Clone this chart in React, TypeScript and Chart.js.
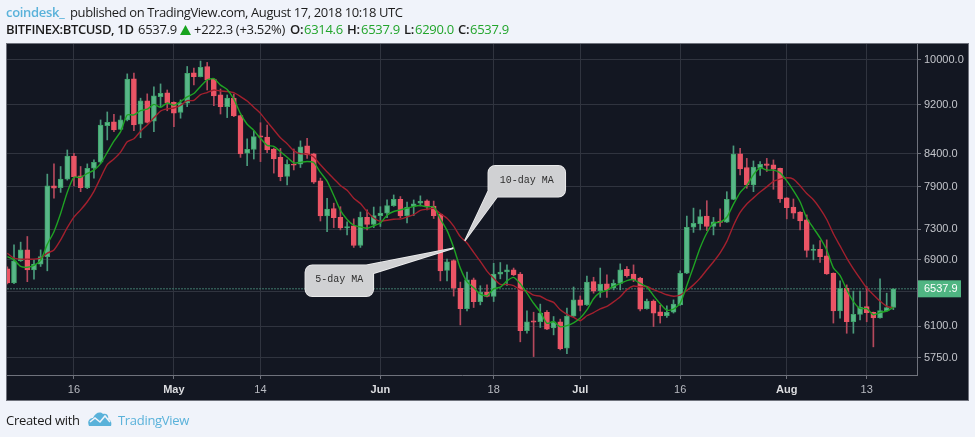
import React, { useEffect, useRef } from "react";
import { Chart, registerables } from "chart.js";

Chart.register(...registerables);

// daily candles, 6 Apr 2018 (day 0) to 17 Aug 2018 (day 133)
const opens = [
  6785, 6610, 6890, 7028, 6772, 6845, 6940, 7915, 7890, 8015,
  8367, 8063, 7890, 8178, 8270, 8850, 8915, 8790, 8946, 9655,
  8875, 9268, 8925, 9340, 9410, 9245, 9070, 9230, 9765, 9695,
  9880, 9650, 9371, 9170, 9315, 9020, 8410, 8470, 8688, 8665,
  8476, 8345, 8055, 8240, 8240, 8525, 8400, 7990, 7485, 7590,
  7465, 7320, 7350, 7085, 7465, 7370, 7490, 7525, 7630, 7720,
  7490, 7620, 7665, 7700, 7625, 7510, 6765, 6890, 6545, 6300,
  6647, 6385, 6497, 6445, 6718, 6745, 6772, 6720, 6050, 6160,
  6150, 6260, 6080, 6150, 5855, 6215, 6405, 6346, 6625, 6515,
  6600, 6545, 6605, 6780, 6720, 6670, 6300, 6390, 6265, 6220,
  6260, 6346, 6730, 7330, 7375, 7485, 7340, 7415, 7400, 7720,
  8400, 8190, 7929, 8180, 8245, 8229, 8178, 7740, 7610, 7540,
  7430, 7020, 7035, 6950, 6730, 6275, 6545, 6150, 6235, 6325,
  6260, 6195, 6275, 6314.6,
];
const highs = [
  6810, 7094, 7130, 7205, 6899, 7028, 8090, 8245, 8205, 8461,
  8410, 8205, 8245, 8306, 8946, 9080, 9040, 9015, 9745, 9760,
  9315, 9390, 9515, 9565, 9458, 9250, 9285, 9880, 9850, 9980,
  9955, 9660, 9475, 9371, 9385, 9025, 8636, 8765, 8900, 8863,
  8490, 8485, 8306, 8476, 8605, 8645, 8410, 8030, 7735, 7665,
  7615, 7405, 7445, 7540, 7570, 7610, 7615, 7711, 7783, 7760,
  7680, 7711, 7770, 7711, 7695, 7510, 6910, 6900, 6620, 6745,
  6670, 6575, 6586, 6855, 6865, 6835, 6795, 6740, 6275, 6260,
  6355, 6280, 6210, 6180, 6307, 6560, 6452, 6695, 6680, 6795,
  6709, 6647, 6848, 6815, 6835, 6680, 6415, 6405, 6340, 6335,
  6405, 6760, 7485, 7595, 7570, 7700, 7465, 7585, 7830, 8525,
  8485, 8330, 8290, 8280, 8330, 8306, 8180, 7745, 7725, 7545,
  7500, 7094, 7150, 7160, 6735, 6635, 6586, 6510, 6510, 6565,
  6262, 6660, 6485, 6537.9,
];
const lows = [
  6598, 6600, 6880, 6625, 6655, 6815, 6760, 7735, 7820, 8000,
  7915, 7830, 7875, 8030, 8255, 8620, 8755, 8785, 8930, 8770,
  8655, 8895, 8755, 9170, 9100, 8835, 8975, 9170, 9546, 9690,
  9458, 9185, 9045, 8985, 9000, 8345, 8217, 8320, 8280, 8420,
  8105, 7990, 7929, 8153, 8190, 8330, 7950, 7415, 7270, 7325,
  7294, 7226, 7060, 7060, 7294, 7325, 7340, 7460, 7620, 7460,
  7390, 7490, 7625, 7570, 7450, 6635, 6635, 6450, 6114, 6275,
  6315, 6346, 6440, 6385, 6660, 6578, 6700, 5925, 6020, 5765,
  6085, 6060, 6002, 5837, 5795, 6210, 6275, 6340, 6485, 6435,
  6435, 6525, 6525, 6680, 6625, 6275, 6295, 6095, 6135, 6200,
  6250, 6340, 6725, 7260, 7294, 7285, 7226, 7340, 7395, 7715,
  8078, 7880, 7830, 8070, 8130, 7865, 7675, 7445, 7450, 7294,
  6935, 6899, 6865, 6715, 6135, 6190, 6020, 6020, 6171, 6150,
  5870, 6190, 6270, 6290,
];
const closes = [
  6610, 6886, 7028, 6772, 6845, 6940, 7915, 7880, 8015, 8367,
  8050, 7890, 8178, 8270, 8863, 8908, 8781, 8946, 9650, 8863,
  9268, 8905, 9355, 9400, 9235, 9060, 9230, 9755, 9695, 9865,
  9635, 9355, 9170, 9315, 9015, 8400, 8470, 8672, 8665, 8461,
  8320, 8050, 8240, 8225, 8510, 8383, 7970, 7485, 7580, 7460,
  7320, 7340, 7085, 7465, 7370, 7490, 7525, 7630, 7720, 7485,
  7610, 7655, 7690, 7620, 7490, 6760, 6875, 6545, 6300, 6647,
  6385, 6495, 6445, 6718, 6745, 6772, 6709, 6050, 6150, 6145,
  6250, 6065, 6150, 5850, 6215, 6405, 6340, 6620, 6510, 6595,
  6525, 6605, 6772, 6700, 6647, 6295, 6390, 6250, 6218, 6260,
  6355, 6730, 7330, 7385, 7475, 7340, 7405, 7395, 7720, 8395,
  8170, 7929, 8195, 8240, 8220, 8165, 7725, 7600, 7525, 7415,
  7020, 7035, 6940, 6722, 6275, 6545, 6150, 6235, 6320, 6255,
  6195, 6280, 6315, 6537.9,
];
const ma5 = [
  6940, 6899, 6815, 6805, 6828, 6894, 7100, 7270, 7519, 7823,
  8045, 8040, 8100, 8151, 8250, 8422, 8600, 8754, 9030, 9030,
  9102, 9126, 9208, 9158, 9233, 9191, 9256, 9336, 9395, 9521,
  9636, 9661, 9544, 9468, 9298, 9051, 8874, 8774, 8644, 8534,
  8518, 8434, 8347, 8259, 8269, 8282, 8266, 8115, 7986, 7776,
  7563, 7437, 7357, 7334, 7316, 7350, 7387, 7496, 7547, 7570,
  7594, 7620, 7632, 7612, 7613, 7443, 7287, 7058, 6794, 6625,
  6550, 6474, 6454, 6538, 6558, 6635, 6678, 6599, 6485, 6365,
  6261, 6132, 6152, 6092, 6106, 6137, 6192, 6286, 6418, 6494,
  6518, 6571, 6601, 6639, 6650, 6604, 6561, 6456, 6360, 6283,
  6295, 6363, 6579, 6812, 7055, 7252, 7387, 7400, 7467, 7651,
  7817, 7922, 8082, 8186, 8151, 8150, 8109, 7990, 7847, 7686,
  7457, 7319, 7187, 7026, 6798, 6703, 6526, 6385, 6305, 6301,
  6231, 6257, 6273, 6317,
];
const ma10 = [
  6985, 6920, 6908, 6908, 6908, 6920, 6985, 7028, 7160, 7325,
  7470, 7570, 7685, 7835, 8036, 8233, 8320, 8427, 8590, 8640,
  8762, 8863, 8981, 9094, 9131, 9146, 9191, 9272, 9276, 9377,
  9413, 9458, 9440, 9431, 9410, 9343, 9267, 9159, 9056, 8916,
  8784, 8654, 8560, 8451, 8401, 8400, 8350, 8231, 8122, 8022,
  7922, 7851, 7736, 7660, 7546, 7456, 7412, 7426, 7440, 7443,
  7472, 7503, 7564, 7579, 7591, 7518, 7453, 7345, 7203, 7119,
  6996, 6880, 6756, 6666, 6591, 6592, 6576, 6526, 6511, 6461,
  6448, 6405, 6375, 6288, 6235, 6199, 6162, 6219, 6255, 6300,
  6327, 6381, 6443, 6528, 6572, 6561, 6566, 6528, 6499, 6466,
  6449, 6462, 6517, 6586, 6669, 6773, 6875, 6990, 7140, 7353,
  7534, 7654, 7741, 7826, 7901, 7983, 8015, 8036, 8016, 7918,
  7803, 7714, 7588, 7436, 7242, 7080, 6922, 6786, 6665, 6549,
  6467, 6391, 6329, 6311,
];

const lastPrice = 6537.9;
const priceTicks = [10000, 9200, 8400, 7900, 7300, 6900, 6500, 6100, 5750];
const dayTicks = [10, 25, 38, 56, 73, 86, 101, 117, 129];
const dayLabels = ["16", "May", "14", "Jun", "18", "Jul", "16", "Aug", "13"];
const monthLabels = ["May", "Jun", "Jul", "Aug"];

const callouts = [
  { label: "10-day MA", day: 68.67, price: 7149, box: [23.5, -75, 77, 31], tail: [[24.5, -52], [32.5, -44]] },
  { label: "5-day MA", day: 66.95, price: 7049, box: [-148, 17, 68, 31], tail: [[-80, 25], [-87, 17]] },
];

const PANEL = { left: 7, top: 44, right: 968, bottom: 400 };
const UP = "#58b688";
const DOWN = "#eb5566";
const UP_WICK = "#4a9a7c";
const DOWN_WICK = "#b5485c";

const isMonthTick = (c: any) => monthLabels.includes(dayLabels[dayTicks.indexOf(c.tick?.value)]);

const panelPlugin = {
  id: "panel",
  beforeDraw(chart: any) {
    const { ctx } = chart;
    ctx.save();
    ctx.fillStyle = "#131722";
    ctx.fillRect(PANEL.left, PANEL.top, PANEL.right - PANEL.left, PANEL.bottom - PANEL.top);
    ctx.strokeStyle = "#6f727c";
    ctx.lineWidth = 1;
    ctx.strokeRect(PANEL.left - 0.5, PANEL.top - 0.5, PANEL.right - PANEL.left + 1, PANEL.bottom - PANEL.top + 1);
    ctx.restore();
  },
  afterDraw(chart: any) {
    const { ctx, scales } = chart;
    ctx.save();

    // last price tag on the axis
    const py = scales.y.getPixelForValue(lastPrice);
    ctx.fillStyle = "#4fb582";
    ctx.fillRect(918, py - 8.5, 43, 17);
    ctx.fillStyle = "#ffffff";
    ctx.font = "11px 'Liberation Sans'";
    ctx.textBaseline = "middle";
    ctx.fillText(lastPrice.toFixed(1), 924, py + 0.5);

    // speech bubbles
    callouts.forEach((c) => {
      const tx = scales.x.getPixelForValue(c.day);
      const ty = scales.y.getPixelForValue(c.price);
      const [dx, dy, w, h] = c.box;
      const shape = () => {
        ctx.beginPath();
        ctx.roundRect(tx + dx, ty + dy, w, h, 7);
        ctx.moveTo(tx, ty);
        ctx.lineTo(tx + c.tail[0][0], ty + c.tail[0][1]);
        ctx.lineTo(tx + c.tail[1][0], ty + c.tail[1][1]);
        ctx.closePath();
      };
      shape();
      ctx.strokeStyle = "#f2f2f2";
      ctx.lineWidth = 1.5;
      ctx.stroke();
      shape();
      ctx.fillStyle = "#d0d1d3";
      ctx.fill("nonzero");
      ctx.fillStyle = "#2e2e2e";
      ctx.font = "10px 'Liberation Mono'";
      ctx.textAlign = "center";
      ctx.textBaseline = "middle";
      ctx.fillText(c.label, tx + dx + w / 2, ty + dy + h / 2 - 1);
    });
    ctx.restore();
  },
};

const PriceChart = () => {
  const canvasRef = useRef<HTMLCanvasElement | null>(null);

  useEffect(() => {
    if (!canvasRef.current) return;
    const days = closes.map((_, i) => i);
    const isUp = (i: number) => closes[i] >= opens[i];

    const chart = new Chart(canvasRef.current, {
      type: "bar",
      data: {
        datasets: [
          {
            type: "line",
            data: days.map((d) => ({ x: d, y: ma5[d] })),
            borderColor: "#1fa324",
            borderWidth: 1.4,
            pointRadius: 0,
            tension: 0.2,
            order: 1,
          },
          {
            type: "line",
            data: days.map((d) => ({ x: d, y: ma10[d] })),
            borderColor: "#a3202e",
            borderWidth: 1.4,
            pointRadius: 0,
            tension: 0.2,
            order: 2,
          },
          {
            type: "line",
            data: [
              { x: -0.05, y: lastPrice },
              { x: 136.55, y: lastPrice },
            ],
            borderColor: "#3f7a6c",
            borderWidth: 1,
            borderDash: [2, 1],
            pointRadius: 0,
            order: 5,
          },
          {
            data: days.map((d) => ({ x: d, y: [opens[d], closes[d]] })),
            backgroundColor: days.map((d) => (isUp(d) ? UP : DOWN)),
            borderColor: days.map((d) => (isUp(d) ? "#3fa56a" : DOWN)),
            borderWidth: 1,
            borderSkipped: false,
            barThickness: 5,
            minBarLength: 1,
            grouped: false,
            order: 3,
          },
          {
            data: days.map((d) => ({ x: d, y: [lows[d], highs[d]] })),
            backgroundColor: days.map((d) => (isUp(d) ? UP_WICK : DOWN_WICK)),
            barThickness: 1,
            grouped: false,
            order: 4,
          },
        ] as any,
      },
      options: {
        animation: false,
        responsive: false,
        devicePixelRatio: 1,
        layout: {
          padding: {
            left: PANEL.left,
            top: PANEL.top,
            right: 975 - PANEL.right,
            bottom: 437 - PANEL.bottom,
          },
        },
        plugins: { legend: { display: false }, tooltip: { enabled: false } },
        scales: {
          x: {
            type: "linear",
            min: -0.05,
            max: 136.55,
            offset: false,
            afterFit: (s: any) => {
              s.height = 25;
            },
            afterBuildTicks: (s: any) => {
              s.ticks = dayTicks.map((value) => ({ value }));
            },
            grid: { color: "#30343f", tickColor: "#6f727c", tickLength: 4, offset: false },
            border: { color: "#6f727c" },
            ticks: {
              autoSkip: false,
              maxRotation: 0,
              padding: 4,
              callback: (v: any) => dayLabels[dayTicks.indexOf(v)],
              color: (c: any) => (isMonthTick(c) ? "#dcdde0" : "#b9bbc2"),
              font: (c: any) => ({
                family: "'Liberation Sans'",
                size: 11,
                weight: isMonthTick(c) ? "bold" : "normal",
              }),
            },
          },
          y: {
            type: "logarithmic",
            position: "right",
            min: 5571,
            max: 10301,
            afterFit: (s: any) => {
              s.width = 51;
            },
            afterBuildTicks: (s: any) => {
              s.ticks = priceTicks.map((value) => ({ value }));
            },
            grid: { color: "#30343f", tickColor: "#6f727c", tickLength: 4 },
            border: { color: "#6f727c" },
            ticks: {
              autoSkip: false,
              padding: 3,
              color: "#c3c5cb",
              font: { family: "'Liberation Sans'", size: 11 },
              callback: (v: any) => (v === 6500 ? "" : Number(v).toFixed(1)),
            },
          },
        },
      },
      plugins: [panelPlugin],
    } as any);

    return () => chart.destroy();
  }, []);

  return <canvas ref={canvasRef} width={975} height={437} style={{ display: "block" }} />;
};

const GREEN = "#22a52c";
const BLUE = "#5ab2da";

const Txt = ({ x, y, color, bold, spacing = -0.3, children }: any) => (
  <span
    style={{
      position: "absolute",
      left: x,
      top: y,
      color,
      fontSize: 13,
      fontWeight: bold ? 600 : 400,
      letterSpacing: spacing,
      whiteSpace: "nowrap",
    }}
  >
    {children}
  </span>
);

export default function App() {
  return (
    <div
      style={{
        position: "absolute",
        left: 0,
        top: 0,
        width: 975,
        height: 437,
        overflow: "hidden",
        background: "#f0f3fa",
        fontFamily: "'Open Sans', sans-serif",
        color: "#1c1c1c",
      }}
    >
      <PriceChart />
      <Txt x={6} y={3} color={BLUE} bold>
        coindesk_
      </Txt>
      <Txt x={70} y={3} spacing={-0.4}>
        published on TradingView.com, August 17, 2018 10:18 UTC
      </Txt>
      <Txt x={6} y={20} bold spacing={-0.35}>
        BITFINEX:BTCUSD, 1D
      </Txt>
      <Txt x={138} y={20}>6537.9</Txt>
      <svg style={{ position: "absolute", left: 180, top: 25 }} width={11} height={10} viewBox="0 0 11 10">
        <path d="M5.5 0 L11 10 L0 10 Z" fill="#17a31f" />
      </svg>
      <Txt x={194} y={20}>+222.3 (+3.52%)</Txt>
      <Txt x={290} y={20} bold>O:</Txt>
      <Txt x={304} y={20} color={GREEN}>6314.6</Txt>
      <Txt x={347} y={20} bold>H:</Txt>
      <Txt x={361} y={20} color={GREEN}>6537.9</Txt>
      <Txt x={404} y={20} bold>L:</Txt>
      <Txt x={415} y={20} color={GREEN}>6290.0</Txt>
      <Txt x={458} y={20} bold>C:</Txt>
      <Txt x={470} y={20} color={GREEN}>6537.9</Txt>
      <Txt x={6} y={411}>Created with</Txt>
      <svg style={{ position: "absolute", left: 88, top: 411 }} width={24} height={15} viewBox="0 0 24 15">
        <path d="M1 15 C-1 11 1 7 5 7 C7 2 12 0 15 3 C19 2 21 5 20 8 C23 9 24 12 23 15 Z" fill={BLUE} />
        <path d="M2 11 L7 7 L12 11 L17 5 L22 11" fill="none" stroke="#f0f3fa" strokeWidth={1.6} />
      </svg>
      <Txt x={118} y={411} color={BLUE}>TradingView</Txt>
    </div>
  );
}
